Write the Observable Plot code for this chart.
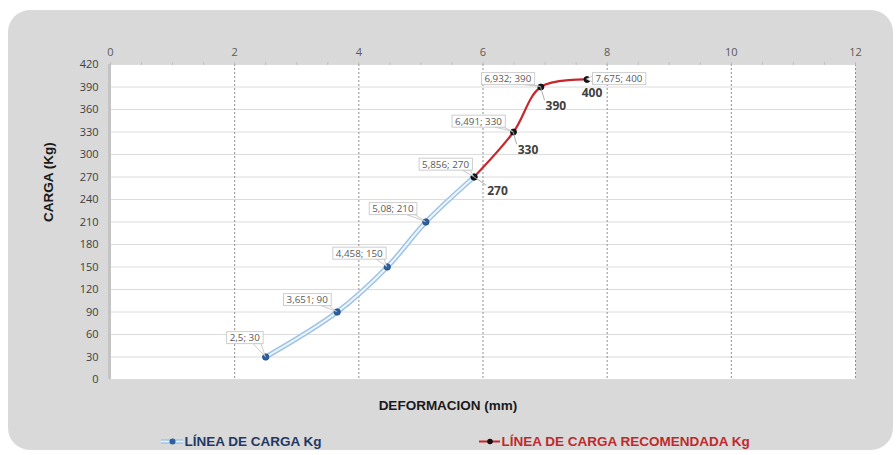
<!DOCTYPE html>
<html><head><meta charset="utf-8">
<script src="https://cdn.jsdelivr.net/npm/d3@7"></script>
<script src="https://cdn.jsdelivr.net/npm/@observablehq/plot@0.6"></script>
<style>
body{margin:0;background:#fff;}
#wrap{position:relative;width:896px;height:455px;overflow:hidden;}
#bg{position:absolute;left:8px;top:10px;width:885px;height:440px;background:#d9d9d9;border-radius:22px;}
#chart{position:absolute;left:0;top:0;}
#legend{position:absolute;left:0;top:425px;}
</style></head><body>
<div id="wrap"><div id="bg"></div><div id="chart"></div><svg id="legend" width="896" height="30"></svg></div>
<script>
// ---- data ----
const deformacionCarga = [2.5, 3.651, 4.458, 5.08, 5.856];
const cargaCarga = [30, 90, 150, 210, 270];
const deformacionRec = [5.856, 6.491, 6.932, 7.675];
const cargaRec = [270, 330, 390, 400];
const xTicks = [0, 2, 4, 6, 8, 10, 12];
const xMinorTicks = [0,0.5,1,1.5,2,2.5,3,3.5,4,4.5,5,5.5,6,6.5,7,7.5,8,8.5,9,9.5,10,10.5,11,11.5,12];
const yTicks = [0, 30, 60, 90, 120, 150, 180, 210, 240, 270, 300, 330, 360, 390, 420];
const seriesNames = ["LÍNEA DE CARGA Kg", "LÍNEA DE CARGA RECOMENDADA Kg"];
const xTitle = "DEFORMACION (mm)";
const yTitle = "CARGA (Kg)";

// ---- layout (pixel offsets of data labels) ----
const boxOffsetsCarga = [[-21,-19],[-30,-12],[-28,-13.5],[-33,-13],[-28.5,-12.5]];
const boxOffsetsRec = [null,[-35,-10.5],[-33,-8],[32,-0.5]];
const valueOffsetsRec = [[23.5,14.5],[14.5,18.5],[15,19.5],[5,14]];

const blue = deformacionCarga.map((x,i)=>({x, y: cargaCarga[i]}));
const red = deformacionRec.map((x,i)=>({x, y: cargaRec[i]}));
const fmtLabel = d => `${String(d.x).replace(".", ",")}; ${d.y}`;

const FONT = "'Open Sans', Lato, sans-serif";
const BOLD = "'Liberation Sans', Arial, sans-serif";

const boxLabels = [];   // in mark order
const boxMarks = [];
blue.forEach((d,i)=>{ const o=boxOffsetsCarga[i]; if(o){ boxLabels.push({d,o}); boxMarks.push(Plot.text([d],{x:"x",y:"y",text:fmtLabel,dx:o[0],dy:o[1],fontSize:9.8,fill:"#595959",fontFamily:FONT})); }});
red.forEach((d,i)=>{ const o=boxOffsetsRec[i]; if(o){ boxLabels.push({d,o}); boxMarks.push(Plot.text([d],{x:"x",y:"y",text:fmtLabel,dx:o[0],dy:o[1],fontSize:9.8,fill:"#595959",fontFamily:FONT})); }});
const valueLabels = [];
const valueMarks = red.map((d,i)=>{ const o=valueOffsetsRec[i]; valueLabels.push({d,o}); return Plot.text([d],{x:"x",y:"y",text:d=>String(d.y),dx:o[0],dy:o[1],fontSize:12,fontWeight:"bold",fill:"#404040",fontFamily:FONT}); });

const chart = Plot.plot({
  width: 896, height: 425,
  marginLeft: 110, marginRight: 41, marginTop: 64, marginBottom: 46,
  style: {background: "none", overflow: "visible", fontFamily: FONT},
  x: {domain: [0, 12]},
  y: {domain: [0, 420]},
  marks: [
    Plot.frame({fill: "white", stroke: null}),
    Plot.gridY(yTicks, {stroke: "#dcdcdc", strokeOpacity: 1, strokeWidth: 1}),
    Plot.gridX(xTicks.filter(t=>t>0), {stroke: "#8f8f8f", strokeOpacity: 1, strokeDasharray: "2,2"}),
    Plot.ruleX([0], {stroke: "#c4c4c4", strokeWidth: 3, dx: -1}),
    Plot.axisX(xMinorTicks, {anchor: "top", tickSize: 3, tickFormat: () => "", stroke: "#bfbfbf", label: null}),
    Plot.axisX(xTicks, {anchor: "top", tickSize: 0, tickPadding: 9, fontSize: 11, color: "#595959", label: null}),
    Plot.axisY(yTicks, {anchor: "left", tickSize: 0, tickPadding: 12, fontSize: 11, color: "#404040", label: null}),
    Plot.text([yTitle], {text: d=>d, frameAnchor: "left", dx: -62, rotate: -90, fontWeight: "bold", fontSize: 13.5, fill: "#1a1a1a", fontFamily: BOLD}),
    Plot.text([xTitle], {text: d=>d, frameAnchor: "bottom", dy: 30, dx: -35, fontWeight: "bold", fontSize: 13.5, fill: "#1a1a1a", fontFamily: BOLD}),
    Plot.line(blue, {x: "x", y: "y", curve: "catmull-rom", stroke: "#9dc3e6", strokeWidth: 5}),
    Plot.line(blue, {x: "x", y: "y", curve: "catmull-rom", stroke: "#eef5fc", strokeWidth: 2}),
    Plot.line(red, {x: "x", y: "y", curve: "catmull-rom", stroke: "#c8262b", strokeWidth: 2.2}),
    Plot.dot(blue, {x: "x", y: "y", r: 3.2, fill: "#2f5f9f", stroke: "#1f4e8c", strokeWidth: 0.8}),
    Plot.dot(red, {x: "x", y: "y", r: 3, fill: "#1a1a1a", stroke: "#000", strokeWidth: 0.8}),
    ...boxMarks,
    ...valueMarks
  ]
});
document.getElementById("chart").append(chart);

// ---- label boxes and leader lines ----
const svg = chart.tagName.toLowerCase() === "svg" ? chart : chart.querySelector("svg");
const sx = chart.scale("x"), sy = chart.scale("y");
const ns = "http://www.w3.org/2000/svg";
const allTexts = Array.from(svg.querySelectorAll("text"));
const boxTexts = allTexts.filter(t => t.textContent.includes(";"));
const overlay = document.createElementNS(ns, "g");
function bboxSvg(t){
  const b = t.getBBox(); const m = t.getCTM();
  return {x0: b.x + m.e, y0: b.y + m.f, x1: b.x + b.width + m.e, y1: b.y + b.height + m.f};
}
const clamp = (v,a,b)=>Math.max(a,Math.min(b,v));
boxTexts.forEach((t,i)=>{
  const info = boxLabels[i]; if(!info) return;
  const bb = bboxSvg(t);
  const x0 = bb.x0 - 3, x1 = bb.x1 + 3, y0 = bb.y0 + 0.5, y1 = bb.y1 - 0.5;
  const px = sx.apply(info.d.x), py = sy.apply(info.d.y);
  let pts;
  if (py > y1) { const bx = clamp(px, x0+6, x1-6); pts = [[bx-4,y1],[bx+4,y1],[px,py]]; }
  else if (px < x0) { const by = clamp(py, y0+3, y1-3); pts = [[x0,by-3],[x0,by+3],[px,py]]; }
  else { const by = clamp(py, y0+3, y1-3); pts = [[x1,by-3],[x1,by+3],[px,py]]; }
  const poly = document.createElementNS(ns,"polygon");
  poly.setAttribute("points", pts.map(p=>p.join(",")).join(" "));
  poly.setAttribute("fill","white"); poly.setAttribute("stroke","#bfbfbf"); poly.setAttribute("stroke-width","0.8");
  overlay.append(poly);
  const r = document.createElementNS(ns,"rect");
  r.setAttribute("x",x0); r.setAttribute("y",y0); r.setAttribute("width",x1-x0); r.setAttribute("height",y1-y0);
  r.setAttribute("fill","white"); r.setAttribute("stroke","#c8c8c8"); r.setAttribute("stroke-width","0.9");
  overlay.append(r);
});
const valTexts = allTexts.filter(t => t.getAttribute("font-weight")==="bold" || (t.parentNode && t.parentNode.getAttribute("font-weight")==="bold"))
  .filter(t => /^\d+$/.test(t.textContent));
valTexts.forEach((t,i)=>{
  const info = valueLabels[i]; if(!info) return;
  const bb = bboxSvg(t);
  const px = sx.apply(info.d.x), py = sy.apply(info.d.y);
  const qx = clamp(px, bb.x0, bb.x1), qy = clamp(py, bb.y0+3, bb.y1);
  if (Math.hypot(qx-px, qy-py) < 10) return;
  const l = document.createElementNS(ns,"line");
  l.setAttribute("x1",px); l.setAttribute("y1",py); l.setAttribute("x2",qx-1); l.setAttribute("y2",qy);
  l.setAttribute("stroke","#a6a6a6"); l.setAttribute("stroke-width","0.9");
  overlay.append(l);
});
const firstLabelG = boxTexts.length ? boxTexts[0].closest("g") : null;
if (firstLabelG) firstLabelG.parentNode.insertBefore(overlay, firstLabelG); else svg.append(overlay);

// ---- legend ----
const lg = d3.select("#legend");
lg.append("line").attr("x1",161).attr("x2",183).attr("y1",16.5).attr("y2",16.5).attr("stroke","#9dc3e6").attr("stroke-width",4.5);
lg.append("line").attr("x1",161).attr("x2",183).attr("y1",16.5).attr("y2",16.5).attr("stroke","#eef5fc").attr("stroke-width",1.5);
lg.append("circle").attr("cx",172.5).attr("cy",16.5).attr("r",3).attr("fill","#2f5f9f");
lg.append("text").attr("x",184.5).attr("y",16.5).attr("dominant-baseline","central")
  .attr("font-family",BOLD).attr("font-weight","bold").attr("font-size",13.5).attr("fill","#1f3864").text(seriesNames[0]);
lg.append("line").attr("x1",479).attr("x2",500).attr("y1",16.5).attr("y2",16.5).attr("stroke","#c8262b").attr("stroke-width",2);
lg.append("circle").attr("cx",490).attr("cy",16.5).attr("r",2.8).attr("fill","#111");
lg.append("text").attr("x",501.5).attr("y",16.5).attr("dominant-baseline","central")
  .attr("font-family",BOLD).attr("font-weight","bold").attr("font-size",13.5).attr("fill","#c0282d").text(seriesNames[1]);
</script>
</body></html>
